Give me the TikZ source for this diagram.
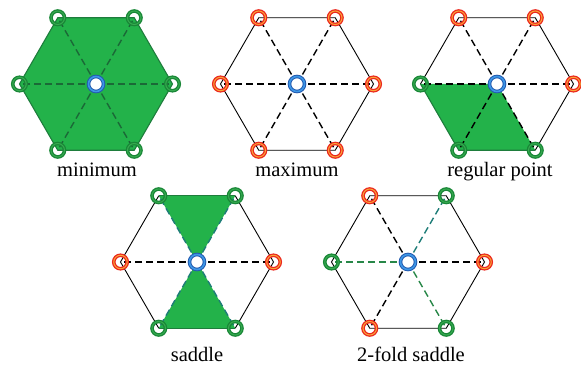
\documentclass[tikz,border=0pt]{standalone}
\usepackage{fontspec}
\setmainfont{Liberation Serif}
\usetikzlibrary{calc}

\definecolor{regionfill}{RGB}{35,178,74}
\definecolor{regionedge}{RGB}{30,125,60}
\definecolor{spokedark}{RGB}{27,105,55}
\definecolor{spokegreen}{RGB}{40,135,72}
\definecolor{spoketeal}{RGB}{30,125,120}
\definecolor{ringgreen}{RGB}{25,135,55}
\definecolor{ringgreenin}{RGB}{55,170,80}
\definecolor{ringred}{RGB}{235,40,30}
\definecolor{ringredin}{RGB}{250,165,55}
\definecolor{ringblue}{RGB}{35,90,175}
\definecolor{ringbluein}{RGB}{60,150,230}

\tikzset{
  hexedge/.style={black, line width=0.9pt},
  greenedge/.style={regionedge, line width=1.1pt},
  spoke/.style={dash pattern=on 7pt off 4pt, line width=1.4pt},
  ring/.style={circle, inner sep=0pt, minimum size=13.5pt, line width=1.3pt, double distance=1.0pt},
  lowring/.style={ring, draw=ringgreen, double=ringgreenin},
  highring/.style={ring, draw=ringred, double=ringredin},
  centring/.style={circle, inner sep=0pt, minimum size=15pt, draw=ringblue,
    double=ringbluein, line width=1pt, double distance=1.6pt, fill=white},
  caption/.style={anchor=base, font=\fontsize{20.5}{24}\selectfont}
}

% centre (#1c) and six corners (#11 ... #16), counter-clockwise from the right
\newcommand\hexpoints[3]{%
  \coordinate (#1c) at (#2,#3);
  \foreach \k in {1,...,6}
    \coordinate (#1\k) at ($(#1c)+({60*(\k-1)}:76.5)$);
}

\begin{document}
\begin{tikzpicture}[x=1pt,y=1pt]
\useasboundingbox (0,0) rectangle (581,367);

\hexpoints{m}{96}{283}
\hexpoints{x}{297}{283}
\hexpoints{r}{497}{283}
\hexpoints{s}{197}{105}
\hexpoints{f}{408}{105}

% ---- minimum
\filldraw[regionfill, draw=regionedge, line width=1.1pt]
  (m1) -- (m2) -- (m3) -- (m4) -- (m5) -- (m6) -- cycle;
\foreach \k in {1,...,6} \draw[spoke, spokedark] (mc) -- (m\k);
\foreach \k in {1,...,6} \node[lowring] (m\k r) at (m\k) {};
\node[centring] (mcr) at (mc) {};
\node[caption] (mlabel) at (97,190) {minimum};

% ---- maximum
\draw[hexedge] (x1) -- (x2) -- (x3) -- (x4) -- (x5) -- (x6) -- cycle;
\foreach \k in {1,...,6} \draw[spoke, black] (xc) -- (x\k);
\foreach \k in {1,...,6} \node[highring] (x\k r) at (x\k) {};
\node[centring] (xcr) at (xc) {};
\node[caption] (xlabel) at (297,190) {maximum};

% ---- regular point
\fill[regionfill] (r4) -- (rc) -- (r6) -- (r5) -- cycle;
\draw[hexedge] (r4) -- (r3) -- (r2) -- (r1) -- (r6);
\draw[greenedge] (r4) -- (r5) -- (r6);
\foreach \k in {1,...,6} \draw[spoke, black] (rc) -- (r\k);
\foreach \k in {1,2,3} \node[highring] (r\k r) at (r\k) {};
\foreach \k in {4,5,6} \node[lowring] (r\k r) at (r\k) {};
\node[centring] (rcr) at (rc) {};
\node[caption] (rlabel) at (500,190) {regular point};

% ---- saddle
\fill[regionfill] (s2) -- (s3) -- (sc) -- cycle;
\fill[regionfill] (s5) -- (s6) -- (sc) -- cycle;
\draw[hexedge] (s2) -- (s1) -- (s6);
\draw[hexedge] (s3) -- (s4) -- (s5);
\draw[greenedge] (s2) -- (s3);
\draw[greenedge] (s5) -- (s6);
\foreach \k in {2,3,5,6} \draw[spoke, spoketeal] (sc) -- (s\k);
\foreach \k in {1,4} \draw[spoke, black] (sc) -- (s\k);
\foreach \k in {1,4} \node[highring] (s\k r) at (s\k) {};
\foreach \k in {2,3,5,6} \node[lowring] (s\k r) at (s\k) {};
\node[centring] (scr) at (sc) {};
\node[caption] (slabel) at (197,6) {saddle};

% ---- 2-fold saddle
\draw[hexedge] (f1) -- (f2) -- (f3) -- (f4) -- (f5) -- (f6) -- cycle;
\draw[spoke, spoketeal] (fc) -- (f2);
\foreach \k in {4,6} \draw[spoke, spokegreen] (fc) -- (f\k);
\foreach \k in {1,3,5} \draw[spoke, black] (fc) -- (f\k);
\foreach \k in {1,3,5} \node[highring] (f\k r) at (f\k) {};
\foreach \k in {2,4,6} \node[lowring] (f\k r) at (f\k) {};
\node[centring] (fcr) at (fc) {};
\node[caption] (flabel) at (411,6) {2-fold saddle};
\end{tikzpicture}
\end{document}
